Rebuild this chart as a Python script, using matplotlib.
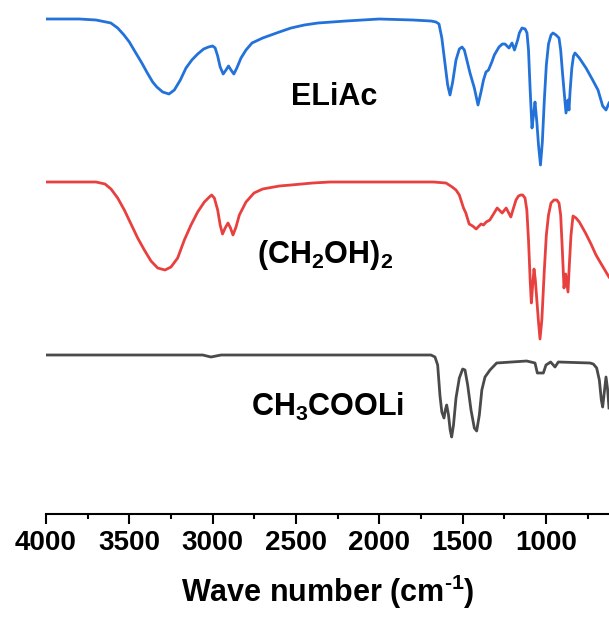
import matplotlib
matplotlib.use("Agg")
import matplotlib.pyplot as plt
from matplotlib.ticker import MultipleLocator

plt.rcParams['font.family'] = ['Liberation Sans', 'DejaVu Sans']
plt.rcParams['font.weight'] = 'bold'
plt.rcParams['mathtext.fontset'] = 'custom'
plt.rcParams['mathtext.rm'] = 'Liberation Sans:bold'
plt.rcParams['mathtext.it'] = 'Liberation Sans:bold'
plt.rcParams['mathtext.bf'] = 'Liberation Sans:bold'

# FTIR spectra, offset transmittance (a.u.)
eliac_wn = [4000, 3800, 3700, 3640, 3611, 3570, 3532, 3500, 3461, 3425, 3392, 3360,
            3335, 3300, 3262, 3230, 3194, 3160, 3125, 3090, 3054, 3025, 3000, 2985,
            2970, 2955, 2937, 2920, 2905, 2890, 2873, 2855, 2830, 2800, 2764, 2700,
            2650, 2600, 2530, 2450, 2368, 2200, 2000, 1800, 1690, 1660, 1642, 1625,
            1605, 1590, 1576, 1560, 1540, 1520, 1504, 1490, 1475, 1456, 1430, 1408,
            1390, 1375, 1360, 1345, 1325, 1310, 1282, 1262, 1246, 1222, 1204, 1189,
            1170, 1160, 1144, 1125, 1114, 1105, 1095, 1084, 1075, 1066, 1055, 1045,
            1033, 1022, 1010, 998, 985, 970, 958, 940, 922, 912, 900, 880, 868, 862,
            855, 845, 835, 826, 800, 760, 720, 688, 660, 640, 622]
eliac_t = [5.01, 5.01, 5.00, 4.98, 4.97, 4.92, 4.85, 4.78, 4.67, 4.57, 4.47, 4.38,
           4.33, 4.28, 4.26, 4.30, 4.40, 4.52, 4.60, 4.66, 4.71, 4.73, 4.74, 4.72,
           4.64, 4.53, 4.46, 4.50, 4.54, 4.50, 4.46, 4.52, 4.62, 4.70, 4.77, 4.82,
           4.85, 4.88, 4.92, 4.95, 4.97, 4.99, 5.01, 5.00, 4.99, 4.98, 4.96, 4.82,
           4.55, 4.35, 4.25, 4.38, 4.60, 4.71, 4.73, 4.70, 4.60, 4.47, 4.32, 4.15,
           4.28, 4.40, 4.48, 4.50, 4.58, 4.65, 4.73, 4.76, 4.76, 4.72, 4.77, 4.70,
           4.80, 4.87, 4.92, 4.91, 4.87, 4.70, 4.30, 3.92, 4.05, 4.18, 3.98, 3.75,
           3.55, 3.78, 4.20, 4.55, 4.76, 4.85, 4.87, 4.85, 4.82, 4.70, 4.45, 4.07,
           4.20, 4.10, 4.30, 4.52, 4.64, 4.67, 4.62, 4.52, 4.40, 4.30, 4.14, 4.10,
           4.17]

eg_wn = [4000, 3800, 3700, 3646, 3610, 3570, 3530, 3490, 3450, 3410, 3370, 3330,
         3286, 3250, 3210, 3170, 3130, 3090, 3050, 3020, 3006, 2990, 2970, 2955,
         2941, 2925, 2908, 2893, 2878, 2860, 2840, 2800, 2752, 2700, 2600, 2530,
         2400, 2296, 2000, 1800, 1676, 1600, 1563, 1540, 1520, 1495, 1481, 1461,
         1440, 1419, 1390, 1375, 1359, 1337, 1315, 1293, 1263, 1239, 1211, 1195,
         1180, 1165, 1152, 1140, 1126, 1115, 1105, 1095, 1088, 1080, 1072, 1064,
         1055, 1045, 1036, 1025, 1010, 998, 985, 970, 952, 935, 922, 912, 902, 892,
         882, 868, 860, 850, 838, 820, 800, 763, 730, 700, 665, 640, 622]
eg_t = [3.38, 3.38, 3.38, 3.36, 3.31, 3.22, 3.10, 2.96, 2.82, 2.70, 2.59, 2.52,
        2.50, 2.53, 2.62, 2.80, 2.95, 3.08, 3.18, 3.23, 3.25, 3.22, 3.10, 2.95,
        2.86, 2.92, 2.97, 2.92, 2.85, 2.93, 3.05, 3.18, 3.27, 3.31, 3.34, 3.35,
        3.37, 3.38, 3.38, 3.38, 3.38, 3.37, 3.33, 3.30, 3.25, 3.12, 3.07, 2.96,
        2.94, 2.91, 2.96, 2.95, 2.98, 3.00, 3.06, 3.12, 3.07, 3.12, 3.03, 3.12,
        3.20, 3.24, 3.25, 3.25, 3.22, 3.10, 2.80, 2.40, 2.17, 2.35, 2.51, 2.40,
        2.20, 1.98, 1.81, 2.00, 2.50, 2.85, 3.05, 3.17, 3.20, 3.20, 3.17, 3.05,
        2.70, 2.32, 2.46, 2.28, 2.55, 2.85, 3.04, 3.02, 2.98, 2.87, 2.76, 2.65,
        2.55, 2.48, 2.43]

liac_wn = [4000, 3500, 3060, 3010, 2950, 1690, 1666, 1650, 1636, 1625, 1612, 1604,
           1596, 1585, 1575, 1566, 1555, 1540, 1520, 1500, 1486, 1470, 1450, 1430,
           1416, 1400, 1385, 1366, 1336, 1296, 1116, 1066, 1052, 1016, 1000, 972,
           946, 926, 736, 716, 696, 680, 668, 660, 652, 640, 630, 622]
liac_t = [1.65, 1.65, 1.65, 1.63, 1.65, 1.65, 1.63, 1.55, 1.24, 1.08, 1.02, 1.10,
          1.15, 1.05, 0.90, 0.83, 0.95, 1.22, 1.42, 1.51, 1.50, 1.35, 1.10, 0.92,
          0.89, 1.05, 1.30, 1.43, 1.50, 1.57, 1.59, 1.57, 1.47, 1.47, 1.55, 1.58,
          1.53, 1.58, 1.57, 1.56, 1.52, 1.40, 1.20, 1.13, 1.25, 1.43, 1.30, 1.12]

labels = ['ELiAc', r'$(CH_2OH)_2$', r'$CH_3COOLi$']
label_wn = [2270, 2323, 2311]
label_t = [4.23, 2.65, 1.13]
colors = ['#2272DA', '#E8403F', '#4A4A4A']

fig = plt.figure(figsize=(6.09, 6.19), dpi=100)
ax = fig.add_axes([46 / 609, 105 / 619, 563 / 609, 514 / 619])

for wn, t, c in zip([eliac_wn, eg_wn, liac_wn], [eliac_t, eg_t, liac_t], colors):
    ax.plot(wn, t, color=c, lw=2.0, solid_joinstyle='round')

for txt, x, y in zip(labels, label_wn, label_t):
    ax.text(x, y, txt, ha='center', va='center', fontsize=22, fontweight='bold')

ax.set_xlim(4000, 622)
ax.set_ylim(0.06, 5.20)
for s in ['top', 'right', 'left']:
    ax.spines[s].set_visible(False)
ax.spines['bottom'].set_linewidth(1.5)
ax.set_yticks([])
ax.xaxis.set_major_locator(MultipleLocator(500))
ax.xaxis.set_minor_locator(MultipleLocator(250))
ax.tick_params(axis='x', which='major', length=7.2, width=1.5, direction='out',
               labelsize=20, pad=4)
ax.tick_params(axis='x', which='minor', length=3.6, width=1.5, direction='out')
for lab in ax.get_xticklabels():
    lab.set_fontweight('bold')
ax.set_xlabel(r'Wave number (cm$^{\text{-}1}$)', fontsize=22, fontweight='bold',
              labelpad=12)

fig.savefig('out.png', dpi=100)
